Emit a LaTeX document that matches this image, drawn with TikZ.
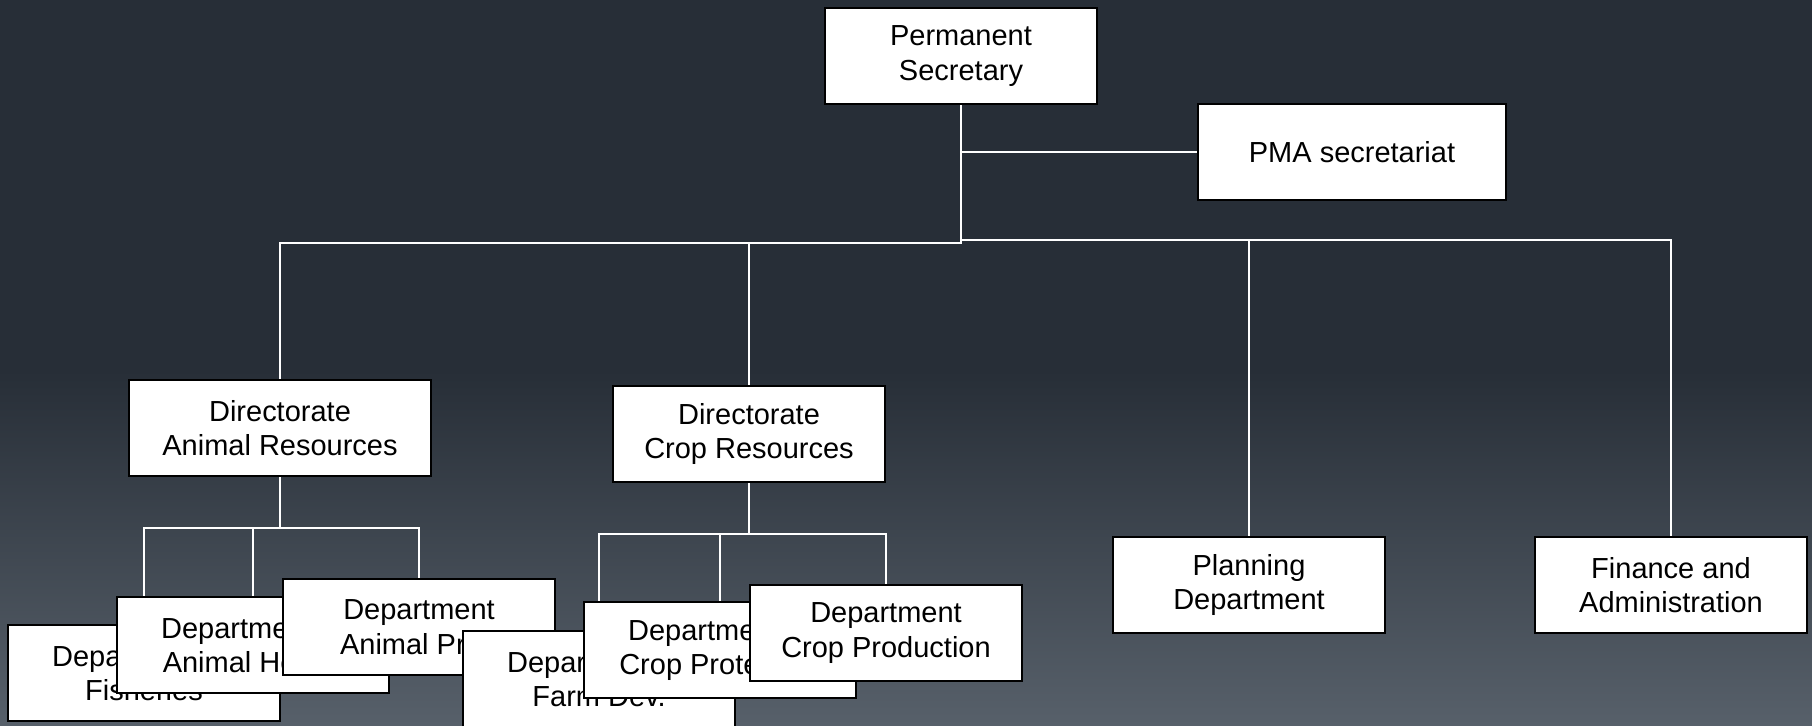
\documentclass[tikz,border=0pt]{standalone}
\usepackage{fontspec}
\setmainfont{Liberation Sans}
\usetikzlibrary{backgrounds}
\definecolor{slatetop}{HTML}{272E37}
\definecolor{slatebot}{HTML}{57606A}
\begin{document}
\begin{tikzpicture}[x=0.02cm,y=-0.02cm,
  unit/.style={draw=black,line width=1.1pt,fill=white,align=center,
    minimum width=5.44cm,minimum height=1.92cm,inner sep=2pt,
    font=\fontsize{16.5}{19.7}\selectfont},
  link/.style={draw=white,line width=1.6pt}]
\useasboundingbox (0,0) rectangle (1812,725);
% top level
\node[unit] (ps) at (961,56) {Permanent\\Secretary};
\node[unit,minimum width=6.16cm] (pma) at (1352,152) {PMA secretariat};
\coordinate (busl) at (0,243);
\coordinate (busr) at (0,240);
% directorates and departments
\node[unit,minimum width=6.04cm] (dar) at (280,428) {Directorate\\Animal Resources};
\node[unit] (dcr) at (749,434) {Directorate\\Crop Resources};
\node[unit] (plan) at (1249,585) {Planning\\Department};
\node[unit] (fin) at (1671,585) {Finance and\\Administration};
\coordinate (subani) at (0,528);
\coordinate (subcrop) at (0,534);
% stacked departments
\node[unit] (fish) at (144,673) {Department of\\Fisheries};
\node[unit] (ahealth) at (253,645) {Department of\\Animal Health};
\node[unit] (aprod) at (419,627) {Department\\Animal Prod};
\node[unit] (farm) at (599,679) {Department of\\Farm Dev.};
\node[unit] (cprot) at (720,650) {Department of\\Crop Protection};
\node[unit] (cprod) at (886,633) {Department\\Crop Production};
\begin{pgfonlayer}{background}
\fill[slatetop] (0,0) rectangle (1812,371);
\shade[top color=slatetop,bottom color=slatebot] (0,370) rectangle (1812,725);
\draw[link] (ps.south) |- (pma.west);
\draw[link] (ps.south) -- (ps.south |- busl) -| (dar.north);
\draw[link] (ps.south |- busl) -| (dcr.north);
\draw[link] (ps.south |- busr) -| (plan.north);
\draw[link] (ps.south |- busr) -| (fin.north);
\draw[link] (dar.south) -- (dar.south |- subani) -| (fish.north);
\draw[link] (dar.south |- subani) -| (ahealth.north);
\draw[link] (dar.south |- subani) -| (aprod.north);
\draw[link] (dcr.south) -- (dcr.south |- subcrop) -| (farm.north);
\draw[link] (dcr.south |- subcrop) -| (cprot.north);
\draw[link] (dcr.south |- subcrop) -| (cprod.north);
\end{pgfonlayer}
\end{tikzpicture}
\end{document}
